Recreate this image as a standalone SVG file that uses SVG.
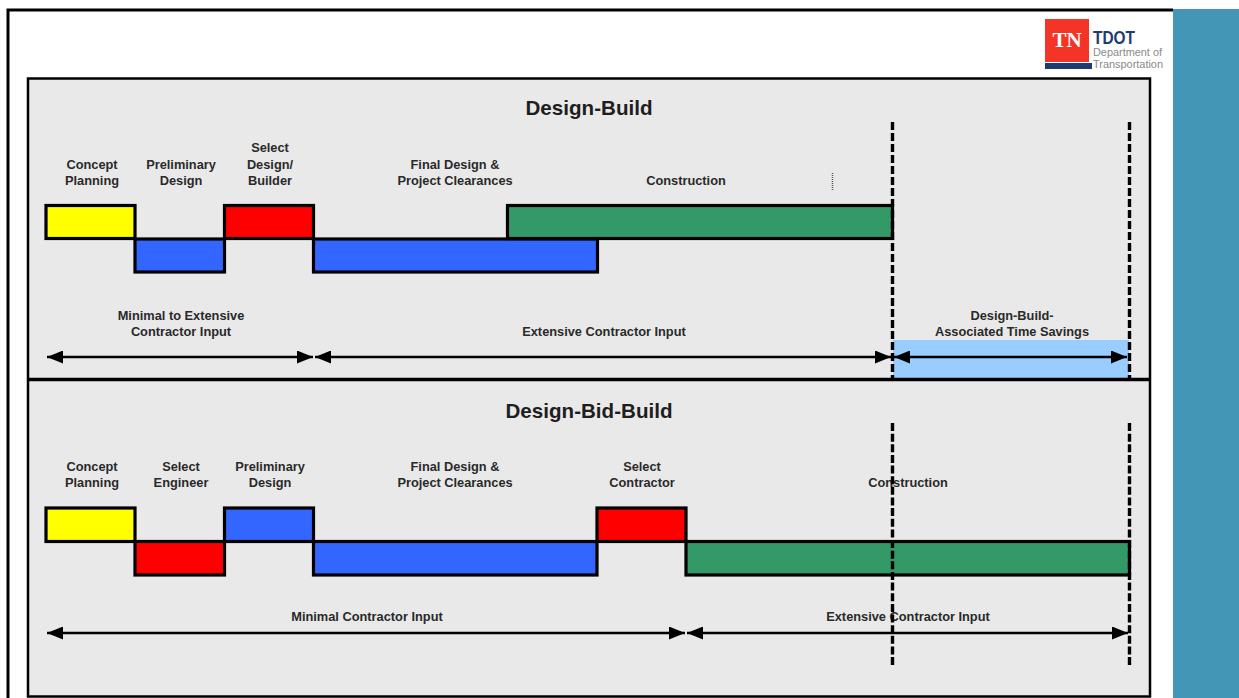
<svg xmlns="http://www.w3.org/2000/svg" width="1239" height="698" viewBox="0 0 1239 698">
<style>
.t{font-family:"Liberation Sans",Arial,sans-serif;font-size:12.8px;font-weight:700;fill:#2a2a2a;text-anchor:middle}
.h{font-family:"Liberation Sans",Arial,sans-serif;font-size:20.600px;font-weight:700;fill:#1e1e1e;text-anchor:middle}
.b{stroke:#000;stroke-width:3.200}
.y{fill:#ffff00}.r{fill:#ff0000}.u{fill:#3366ff}.g{fill:#339966}
.a{stroke:#000;stroke-width:2.400;fill:none;marker-start:url(#ah);marker-end:url(#ah)}
.d{stroke:#000;stroke-width:3.400;fill:none;stroke-dasharray:8 3}
.e{stroke-dasharray:8 2.640}
</style>
<defs>
<marker id="ah" markerUnits="userSpaceOnUse" markerWidth="16" markerHeight="13" refX="16" refY="6.500" orient="auto-start-reverse"><path d="M0 0L16 6.500L0 13Z" fill="#000"/></marker>
</defs>
<rect width="1239" height="698" fill="#fff"/>
<g id="frame">
<path d="M8 698V10H1173" fill="none" stroke="#000" stroke-width="3"/>
<rect x="1173" y="9" width="66" height="689" fill="#4396b6"/>
</g>
<g id="logo">
<rect x="1045" y="19" width="44" height="43" fill="#f33426"/>
<rect x="1045" y="63" width="47" height="6" fill="#1d3a72"/>
<text x="1067" y="47" style="font-family:'Liberation Serif',serif;font-size:21px;font-weight:700;fill:#fff;text-anchor:middle">TN</text>
<text x="1093" y="44" style="font-family:'Liberation Sans',sans-serif;font-size:18.500px;font-weight:700;fill:#1d3a72" textLength="42" lengthAdjust="spacingAndGlyphs">TDOT</text>
<text x="1093" y="56" style="font-family:'Liberation Sans',sans-serif;font-size:10px;fill:#8a8a8a" textLength="69" lengthAdjust="spacingAndGlyphs">Department of</text>
<text x="1093" y="68" style="font-family:'Liberation Sans',sans-serif;font-size:10px;fill:#8a8a8a" textLength="70" lengthAdjust="spacingAndGlyphs">Transportation</text>
</g>
<g id="panel">
<rect x="28" y="78.500" width="1122" height="618" fill="#e9e9e9" stroke="#000" stroke-width="2.500"/>
</g>
<g id="design-build">
<rect x="893" y="340" width="236" height="38" fill="#99ccff"/>
<text class="h" x="589" y="115">Design-Build</text>
<g id="db-concept"><rect class="b y" x="46" y="205.500" width="89" height="33"/><text class="t"><tspan x="92" y="169">Concept</tspan><tspan x="92" y="184.500">Planning</tspan></text></g>
<g id="db-prelim"><rect class="b u" x="135" y="239" width="89.500" height="33"/><text class="t"><tspan x="181" y="169">Preliminary</tspan><tspan x="181" y="184.500">Design</tspan></text></g>
<g id="db-select"><rect class="b r" x="224.500" y="205.500" width="89" height="33"/><text class="t"><tspan x="270" y="151.500">Select</tspan><tspan x="270" y="169">Design/</tspan><tspan x="270" y="184.500">Builder</tspan></text></g>
<g id="db-final"><rect class="b u" x="313.500" y="239" width="284" height="33"/><text class="t"><tspan x="455" y="169">Final Design &amp;</tspan><tspan x="455" y="184.500">Project Clearances</tspan></text></g>
<g id="db-construction"><rect class="b g" x="507.500" y="205.500" width="385" height="33"/><text class="t" x="686" y="184.500">Construction</text></g>
<path d="M832.500 173V190" stroke="#555" stroke-width="1.500" stroke-dasharray="1 1" fill="none"/>
<text class="t"><tspan x="181" y="320">Minimal to Extensive</tspan><tspan x="181" y="336">Contractor Input</tspan></text>
<text class="t" x="604" y="336">Extensive Contractor Input</text>
<text class="t"><tspan x="1012" y="320">Design-Build-</tspan><tspan x="1012" y="336">Associated Time Savings</tspan></text>
</g>
<g id="design-bid-build">
<text class="h" x="589" y="418">Design-Bid-Build</text>
<g id="dbb-concept"><rect class="b y" x="46" y="508" width="89" height="33.500"/><text class="t"><tspan x="92" y="471">Concept</tspan><tspan x="92" y="487">Planning</tspan></text></g>
<g id="dbb-engineer"><rect class="b r" x="135" y="541.500" width="89.500" height="33.500"/><text class="t"><tspan x="181" y="471">Select</tspan><tspan x="181" y="487">Engineer</tspan></text></g>
<g id="dbb-prelim"><rect class="b u" x="224.500" y="508" width="89" height="33.500"/><text class="t"><tspan x="270" y="471">Preliminary</tspan><tspan x="270" y="487">Design</tspan></text></g>
<g id="dbb-final"><rect class="b u" x="313.500" y="541.500" width="283.500" height="33.500"/><text class="t"><tspan x="455" y="471">Final Design &amp;</tspan><tspan x="455" y="487">Project Clearances</tspan></text></g>
<g id="dbb-contractor"><rect class="b r" x="597" y="508" width="89" height="33.500"/><text class="t"><tspan x="642" y="471">Select</tspan><tspan x="642" y="487">Contractor</tspan></text></g>
<g id="dbb-construction"><rect class="b g" x="686" y="541.500" width="443.500" height="33.500"/><text class="t" x="908" y="487">Construction</text></g>
<text class="t" x="367" y="621">Minimal Contractor Input</text>
<text class="t" x="908" y="621">Extensive Contractor Input</text>
</g>
<g id="connectors">
<path d="M28 379.500H1149" stroke="#000" stroke-width="3.500" fill="none"/>
<path class="d" d="M892.500 122V378"/>
<path class="d" d="M1129.500 122V378"/>
<path class="d e" d="M892.500 423V665"/>
<path class="d e" d="M1129.500 423V665"/>
<path class="a" d="M47 357H313"/>
<path class="a" d="M315 357H891"/>
<path class="a" d="M894 357H1127"/>
<path class="a" d="M47 633H685"/>
<path class="a" d="M687 633H1128"/>
</g>
</svg>
